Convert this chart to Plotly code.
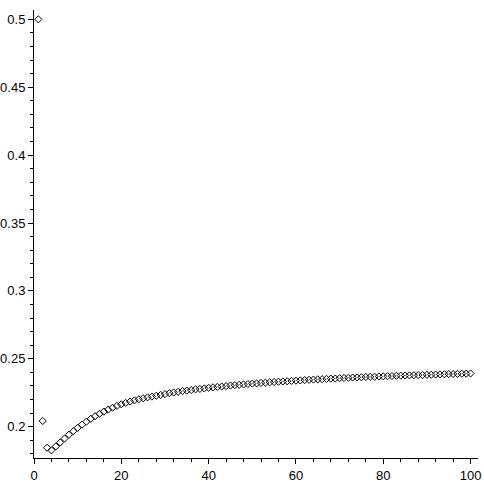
import plotly.graph_objects as go

n_values = list(range(1, 101))
ratio_values = [
    0.5, 0.2042, 0.1845, 0.1826, 0.1855, 0.1884, 0.1913, 0.1941, 0.1967, 0.1992,
    0.2015, 0.2037, 0.2058, 0.2077, 0.2095, 0.2111, 0.2126, 0.2140, 0.2153, 0.2165,
    0.2175, 0.2185, 0.2194, 0.2202, 0.2209, 0.2216, 0.2222, 0.2228, 0.2234, 0.2240,
    0.2247, 0.2252, 0.2257, 0.2262, 0.2266, 0.2270, 0.2275, 0.2278, 0.2282, 0.2286,
    0.2290, 0.2293, 0.2296, 0.2299, 0.2303, 0.2306, 0.2308, 0.2311, 0.2314, 0.2317,
    0.2319, 0.2322, 0.2324, 0.2327, 0.2329, 0.2331, 0.2333, 0.2335, 0.2337, 0.2339,
    0.2341, 0.2343, 0.2345, 0.2347, 0.2349, 0.2350, 0.2352, 0.2354, 0.2355, 0.2357,
    0.2359, 0.2360, 0.2362, 0.2363, 0.2364, 0.2366, 0.2367, 0.2368, 0.2370, 0.2371,
    0.2372, 0.2373, 0.2375, 0.2376, 0.2377, 0.2378, 0.2379, 0.2380, 0.2381, 0.2382,
    0.2383, 0.2384, 0.2385, 0.2386, 0.2387, 0.2388, 0.2389, 0.2390, 0.2391, 0.2392,
]

x_ticks = [0, 20, 40, 60, 80, 100]
y_ticks = [0.2, 0.25, 0.3, 0.35, 0.4, 0.45, 0.5]
y_tick_labels = ["0.2", "0.25", "0.3", "0.35", "0.4", "0.45", "0.5"]

fig = go.Figure()
fig.add_trace(go.Scatter(
    x=n_values, y=ratio_values, mode="markers",
    marker=dict(symbol="diamond-open", size=5.5, color="black",
                line=dict(width=1, color="black")),
    showlegend=False, hoverinfo="skip", cliponaxis=False,
))

font = dict(family="Liberation Sans, Arial, sans-serif", size=13, color="black")

fig.update_layout(
    width=484, height=484,
    margin=dict(l=34, r=6, t=10, b=26, autoexpand=False),
    paper_bgcolor="white", plot_bgcolor="white",
    font=font,
    xaxis=dict(
        range=[0, 101.7], tickmode="array", tickvals=x_ticks,
        ticktext=[str(v) for v in x_ticks], automargin=False,
        showline=True, linecolor="black", linewidth=1,
        ticks="outside", ticklen=5, tickcolor="black", tickwidth=1,
        minor=dict(dtick=4, tick0=0, ticks="outside", ticklen=3,
                   tickcolor="black", showgrid=False),
        showgrid=False, zeroline=False, tickfont=font,
    ),
    yaxis=dict(
        range=[0.17695, 0.50685], tickmode="array", tickvals=y_ticks,
        ticktext=y_tick_labels, automargin=False,
        showline=True, linecolor="black", linewidth=1,
        ticks="outside", ticklen=5, tickcolor="black", tickwidth=1,
        minor=dict(dtick=0.01, tick0=0, ticks="outside", ticklen=3,
                   tickcolor="black", showgrid=False),
        showgrid=False, zeroline=False, tickfont=font,
    ),
)

fig.write_html(
    "out.html",
    config={"displayModeBar": False},
    post_script="document.body.style.margin='0px';document.body.style.overflow='hidden';",
)
